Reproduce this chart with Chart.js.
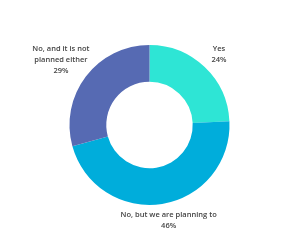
<!DOCTYPE html>
<html>
<head>
<meta charset="utf-8">
<script src="https://cdn.jsdelivr.net/npm/chart.js@4"></script>
<style>
    html, body { margin: 0; padding: 0; background: #fff; }
    #wrap { width: 299px; height: 251px; }
</style>
</head>
<body>
<div id="wrap"><canvas id="adoptionChart" width="299" height="251"></canvas></div>
<script>
// Survey answers (percent)
const categories = ['Yes', 'No, but we are planning to', 'No, and it is not planned either'];
const labelLines = [['Yes'], ['No, but we are planning to'], ['No, and it is not', 'planned either']];
const shares = [24, 46, 29];
const sliceColors = ['#2ee5d5', '#00addb', '#566ab3'];

// Draws the category + percent text outside each slice
const outerLabels = {
    id: 'outerLabels',
    afterDatasetsDraw(chart) {
        const ctx = chart.ctx;
        const meta = chart.getDatasetMeta(0);
        ctx.save();
        ctx.font = '600 7.5px "Open Sans"';
        ctx.fillStyle = '#444444';
        ctx.textAlign = 'center';
        ctx.textBaseline = 'middle';
        meta.data.forEach(function (arc, i) {
            const mid = (arc.startAngle + arc.endAngle) / 2;
            const lines = labelLines[i].concat([shares[i] + '%']);
            const w = Math.max.apply(null, lines.map(function (t) { return ctx.measureText(t).width; }));
            const lh = 11;
            const r = arc.outerRadius + 17;
            // push wide / tall blocks a bit further out
            const x = arc.x + Math.cos(mid) * r + Math.cos(mid) * w * 0.25;
            const y = arc.y + Math.sin(mid) * r + Math.sin(mid) * (lines.length - 2) * lh * 0.9;
            const top = y - (lines.length - 1) * lh / 2;
            lines.forEach(function (t, j) {
                ctx.fillText(t, x, top + j * lh);
            });
        });
        ctx.restore();
    }
};

const ctx = document.getElementById('adoptionChart');
new Chart(ctx.getContext('2d'), {
    type: 'doughnut',
    data: {
        labels: categories,
        datasets: [{
            data: shares,
            backgroundColor: sliceColors,
            borderWidth: 0
        }]
    },
    options: {
        responsive: false,
        animation: false,
        cutout: '54%',
        layout: {
            padding: { top: 45, bottom: 46, left: 0, right: 0 }
        },
        plugins: {
            legend: { display: false },
            tooltip: { enabled: false }
        }
    },
    plugins: [outerLabels]
});
</script>
</body>
</html>
